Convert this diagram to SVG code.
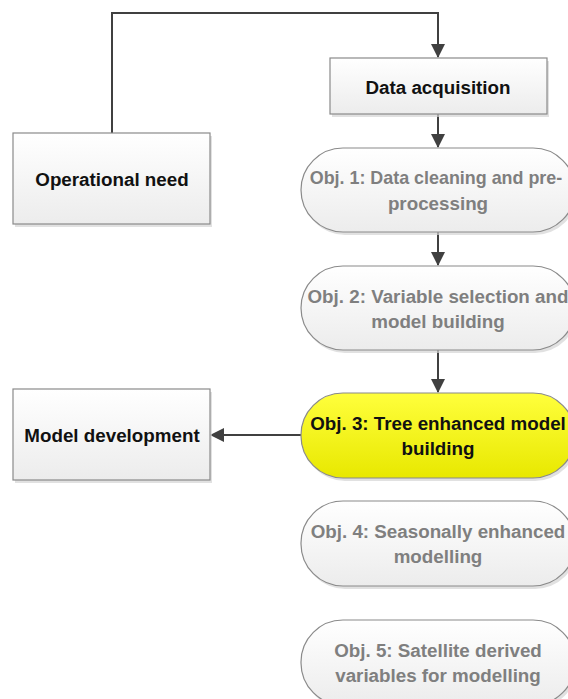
<svg xmlns="http://www.w3.org/2000/svg" width="568" height="699" viewBox="0 0 568 699">
<style>
.box{stroke:#8a8a8a;stroke-width:1.2}
.shadow{fill:#d4d4d4;opacity:0.7}
.t{font-family:"Liberation Sans",Arial,sans-serif;font-weight:bold;font-size:18.8px;text-anchor:middle;dominant-baseline:central}
.dark{fill:#111111}
.gray{fill:#7f7f7f}
.conn{fill:none;stroke:#404040;stroke-width:2}
</style>
<defs>
<linearGradient id="gw" x1="0" y1="0" x2="0" y2="1">
<stop offset="0" stop-color="#ffffff"/>
<stop offset="1" stop-color="#ececec"/>
</linearGradient>
<linearGradient id="gy" x1="0" y1="0" x2="0" y2="1">
<stop offset="0" stop-color="#ffff3c"/>
<stop offset="1" stop-color="#e8e800"/>
</linearGradient>
<marker id="ah" markerWidth="14" markerHeight="14" refX="13" refY="7" orient="auto" markerUnits="userSpaceOnUse">
<path d="M0,0 L14,7 L0,14 Z" fill="#404040"/>
</marker>
</defs>
<rect width="568" height="699" fill="#ffffff"/>
<g id="connectors">
<path class="conn" d="M112,133 V13 H438 V57" marker-end="url(#ah)"/>
<path class="conn" d="M438,114 V147" marker-end="url(#ah)"/>
<path class="conn" d="M438,232 V265" marker-end="url(#ah)"/>
<path class="conn" d="M438,350 V392" marker-end="url(#ah)"/>
<path class="conn" d="M301,435 H211" marker-end="url(#ah)"/>
</g>
<g id="operational-need">
<rect class="shadow" x="15" y="136" width="197" height="91"/>
<rect class="box" x="13" y="133" width="197" height="91" fill="url(#gw)"/>
<text class="t dark" x="112" y="179">Operational need</text>
</g>
<g id="data-acquisition">
<rect class="shadow" x="332" y="61" width="217" height="56"/>
<rect class="box" x="330" y="58" width="217" height="56" fill="url(#gw)"/>
<text class="t dark" x="438" y="87">Data acquisition</text>
</g>
<g id="obj1">
<rect class="shadow" x="303" y="151" width="274" height="84" rx="42"/>
<rect class="box" x="301" y="148" width="274" height="84" rx="42" fill="url(#gw)"/>
<text class="t gray" x="436" y="178" style="font-size:17.9px">Obj. 1: Data cleaning and pre-</text>
<text class="t gray" x="438" y="203">processing</text>
</g>
<g id="obj2">
<rect class="shadow" x="303" y="269" width="274" height="84" rx="42"/>
<rect class="box" x="301" y="266" width="274" height="84" rx="42" fill="url(#gw)"/>
<text class="t gray" x="438" y="296">Obj. 2: Variable selection and</text>
<text class="t gray" x="438" y="321">model building</text>
</g>
<g id="obj3">
<rect class="shadow" x="303" y="396" width="274" height="85" rx="42"/>
<rect class="box" x="301" y="393" width="274" height="85" rx="42" fill="url(#gy)"/>
<text class="t dark" x="438" y="423">Obj. 3: Tree enhanced model</text>
<text class="t dark" x="438" y="448">building</text>
</g>
<g id="model-development">
<rect class="shadow" x="15" y="392" width="197" height="91"/>
<rect class="box" x="13" y="389" width="197" height="91" fill="url(#gw)"/>
<text class="t dark" x="112" y="435">Model development</text>
</g>
<g id="obj4">
<rect class="shadow" x="303" y="504" width="274" height="85" rx="42"/>
<rect class="box" x="301" y="501" width="274" height="85" rx="42" fill="url(#gw)"/>
<text class="t gray" x="438" y="531">Obj. 4: Seasonally enhanced</text>
<text class="t gray" x="438" y="556">modelling</text>
</g>
<g id="obj5">
<rect class="shadow" x="303" y="623" width="274" height="85" rx="42"/>
<rect class="box" x="301" y="620" width="274" height="85" rx="42" fill="url(#gw)"/>
<text class="t gray" x="438" y="650">Obj. 5: Satellite derived</text>
<text class="t gray" x="438" y="675">variables for modelling</text>
</g>
</svg>
